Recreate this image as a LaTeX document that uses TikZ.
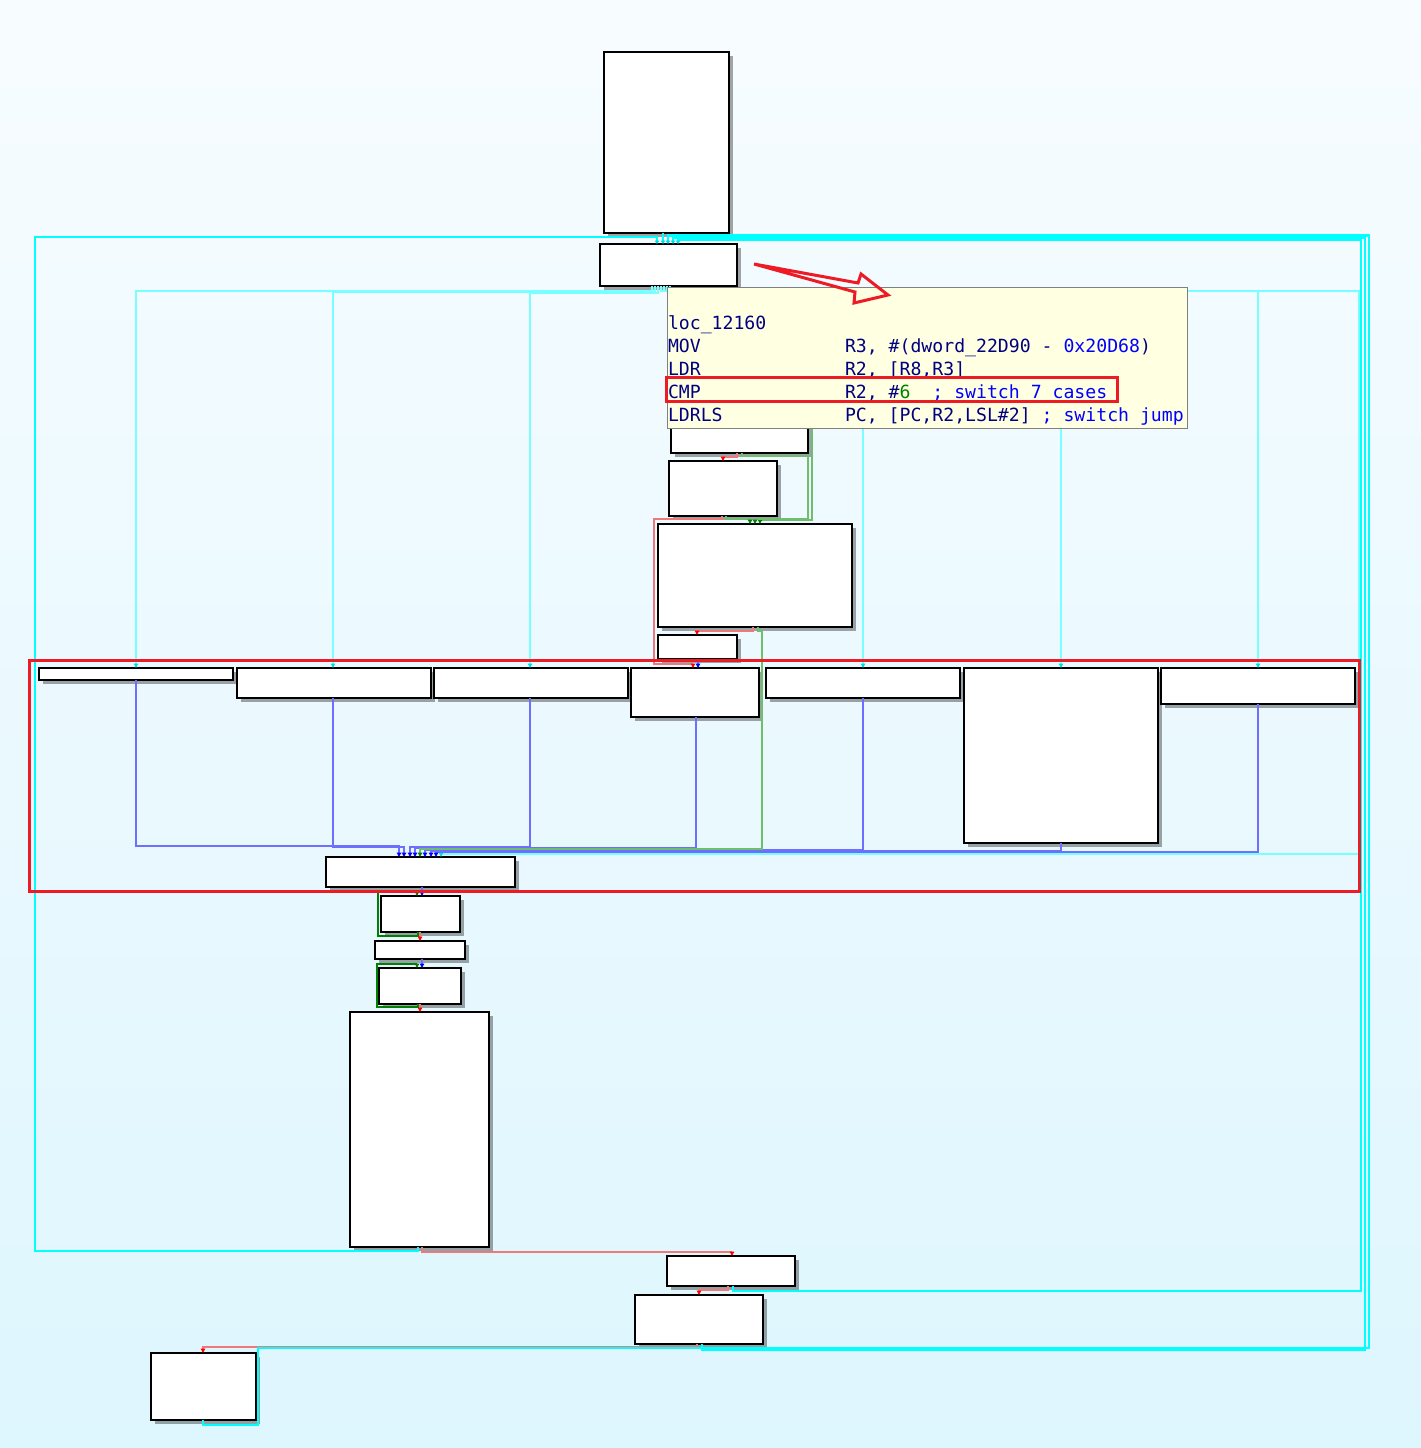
\documentclass[tikz,border=0pt]{standalone}
\usepackage{fontspec}
\newfontfamily\monof{DejaVu Sans Mono}
\usetikzlibrary{arrows.meta,shadows}
\definecolor{bgtop}{RGB}{247,252,255}
\definecolor{bgbot}{RGB}{222,246,254}
\definecolor{cyanD}{RGB}{0,255,255}
\definecolor{cyanL}{RGB}{120,255,255}
\definecolor{cyanA}{RGB}{0,220,230}
\definecolor{blueL}{RGB}{110,110,255}
\definecolor{blueA}{RGB}{0,0,255}
\definecolor{greenL}{RGB}{110,190,110}
\definecolor{greenA}{RGB}{0,128,0}
\definecolor{greenD}{RGB}{0,128,0}
\definecolor{redL}{RGB}{240,120,120}
\definecolor{redA}{RGB}{255,0,0}
\definecolor{hlred}{RGB}{237,28,36}
\definecolor{tipyel}{RGB}{255,255,225}
\definecolor{tipgray}{RGB}{128,128,128}
\definecolor{navy}{RGB}{0,0,128}
\definecolor{blu}{RGB}{0,0,255}
\definecolor{grn}{RGB}{0,128,0}
\begin{document}
\begin{tikzpicture}[x=1pt,y=-1pt,
  ibx/.style={draw=black, line width=1.5pt, fill=white, inner sep=0pt, outer sep=0pt, anchor=north west,
    drop shadow={shadow xshift=4pt, shadow yshift=-4pt, fill=black, opacity=0.35}},
  tipbox/.style={draw=tipgray, line width=1pt, fill=tipyel, inner sep=0pt, outer sep=0pt, anchor=north west},
  txt/.style={anchor=base west, inner sep=0pt, outer sep=0pt, font=\monof\fontsize{18.15pt}{23pt}\selectfont, text=navy},
  eLC/.style={draw=cyanL, line width=2.1pt, -{Triangle[length=4.5pt,width=4.5pt,color=cyanA]}},
  eDC/.style={draw=cyanD, line width=2.8pt, -{Triangle[length=3.5pt,width=4.5pt,color=cyanA]}},
  eDR/.style={draw=cyanD, line width=2.2pt, -{Triangle[length=3.5pt,width=4.5pt,color=cyanA]}},
  eBL/.style={draw=blueL, line width=2.1pt, -{Triangle[length=4.5pt,width=4.5pt,color=blueA]}},
  eGL/.style={draw=greenL, line width=2.1pt, -{Triangle[length=4.5pt,width=4.5pt,color=greenA]}},
  eGD/.style={draw=greenD, line width=2.4pt, -{Triangle[length=4.5pt,width=4.5pt,color=greenA]}},
  eRL/.style={draw=redL, line width=2.1pt, -{Triangle[length=4.5pt,width=4.5pt,color=redA]}},
  hlbox/.style={draw=hlred, line width=3pt}
]
\useasboundingbox (0,0) rectangle (1421,1448);
\shade[top color=bgtop, bottom color=bgbot] (0,0) rectangle (1421,1448);

% ---------- blocks ----------
\node[ibx, minimum width=125pt, minimum height=181pt] (top) at (604,52) {};
\node[ibx, minimum width=137pt, minimum height=42pt]  (b2)  at (600,244) {};
\node[ibx, minimum width=137pt, minimum height=38pt]  (b4)  at (671,415) {};
\node[ibx, minimum width=108pt, minimum height=55pt]  (b5)  at (669,461) {};
\node[ibx, minimum width=194pt, minimum height=103pt] (b6)  at (658,524) {};
\node[ibx, minimum width=79pt,  minimum height=24pt]  (b7)  at (658,635) {};
\node[ibx, minimum width=194pt, minimum height=12pt]  (ca)  at (39,668) {};
\node[ibx, minimum width=194pt, minimum height=30pt]  (cb)  at (237,668) {};
\node[ibx, minimum width=194pt, minimum height=30pt]  (cc)  at (434,668) {};
\node[ibx, minimum width=128pt, minimum height=49pt]  (cd)  at (631,668) {};
\node[ibx, minimum width=194pt, minimum height=30pt]  (ce)  at (766,668) {};
\node[ibx, minimum width=194pt, minimum height=175pt] (cf)  at (964,668) {};
\node[ibx, minimum width=194pt, minimum height=36pt]  (cg)  at (1161,668) {};
\node[ibx, minimum width=189pt, minimum height=30pt]  (mg)  at (326,857) {};
\node[ibx, minimum width=79pt,  minimum height=36pt]  (b8)  at (381,896) {};
\node[ibx, minimum width=90pt,  minimum height=18pt]  (b9)  at (375,941) {};
\node[ibx, minimum width=82pt,  minimum height=36pt]  (b10) at (379,968) {};
\node[ibx, minimum width=139pt, minimum height=235pt] (bb)  at (350,1012) {};
\node[ibx, minimum width=128pt, minimum height=30pt]  (b11) at (667,1256) {};
\node[ibx, minimum width=128pt, minimum height=49pt]  (b12) at (635,1295) {};
\node[ibx, minimum width=105pt, minimum height=67pt]  (b13) at (151,1353) {};
\coordinate (hid) at (812,400);

% ---------- edges ----------
% switch cases (light cyan)
\draw[eLC] ([xshift=52pt]b2.south west) |- (136,291) -- ([xshift=97pt]ca.north west);
\draw[eLC] ([xshift=55pt]b2.south west) |- (333,292) -- ([xshift=96pt]cb.north west);
\draw[eLC] ([xshift=58pt]b2.south west) |- (530,293) -- ([xshift=96pt]cc.north west);
\draw[eLC] ([xshift=61pt]b2.south west) |- (863,291) -- ([xshift=97pt]ce.north west);
\draw[eLC] ([xshift=64pt]b2.south west) |- (1061,291) -- ([xshift=97pt]cf.north west);
\draw[eLC] ([xshift=67pt]b2.south west) |- (1258,291) -- ([xshift=97pt]cg.north west);
\draw[eLC] ([xshift=70pt]b2.south west) |- (1359,291) |- (441,854) -- ([xshift=115pt]mg.north west);

% cases to merge (blue)
\draw[eBL] ([xshift=97pt]ca.south west) |- (399,846) -- ([xshift=73pt]mg.north west);
\draw[eBL] ([xshift=96pt]cb.south west) |- (404,847) -- ([xshift=78pt]mg.north west);
\draw[eBL] ([xshift=96pt]cc.south west) |- (410,847) -- ([xshift=84pt]mg.north west);
\draw[eBL] ([xshift=65pt]cd.south west) |- (415,848) -- ([xshift=89pt]mg.north west);
\draw[eBL] ([xshift=97pt]ce.south west) |- (425,850) -- ([xshift=99pt]mg.north west);
\draw[eBL] ([xshift=97pt]cf.south west) |- (431,851) -- ([xshift=105pt]mg.north west);
\draw[eBL] ([xshift=97pt]cg.south west) |- (436,852) -- ([xshift=110pt]mg.north west);

% upper chain
\draw[eGL] (hid) |- (760,520) -- ([xshift=102pt]b6.north west);
\draw[eGL] ([xshift=71pt]b4.south west) |- (808,456) |- (755,519) -- ([xshift=97pt]b6.north west);
\draw[eGL] ([xshift=57pt]b5.south west) |- (750,519) -- ([xshift=92pt]b6.north west);
\draw[eRL] ([xshift=66pt]b4.south west) |- (723,457) -- ([xshift=54pt]b5.north west);
\draw[eRL] ([xshift=53pt]b5.south west) |- (654,519) |- (693,664) -- ([xshift=62pt]cd.north west);
\draw[eRL] ([xshift=95pt]b6.south west) |- (697,631) -- ([xshift=39pt]b7.north west);
\draw[eGL] ([xshift=100pt]b6.south west) |- (762,631) |- (420,849) -- ([xshift=94pt]mg.north west);
\draw[eBL] ([xshift=40pt]b7.south west) -- ([xshift=67pt]cd.north west);

% lower chain
\draw[eBL] ([xshift=96pt]mg.south west) -- ([xshift=41pt]b8.north west);
\draw[eGD] ([xshift=37pt]b8.south west) |- (378,936) |- (417,892) -- ([xshift=36pt]b8.north west);
\draw[eRL] ([xshift=39pt]b8.south west) -- ([xshift=45pt]b9.north west);
\draw[eBL] ([xshift=47pt]b9.south west) -- ([xshift=43pt]b10.north west);
\draw[eGD] ([xshift=39pt]b10.south west) |- (377,1007) |- (417,964) -- ([xshift=38pt]b10.north west);
\draw[eRL] ([xshift=41pt]b10.south west) -- ([xshift=70pt]bb.north west);
\draw[eRL] ([xshift=72pt]bb.south west) |- (732,1252) -- ([xshift=65pt]b11.north west);
\draw[eRL] ([xshift=61pt]b11.south west) |- (699,1290) -- ([xshift=64pt]b12.north west);
\draw[eRL] ([xshift=62pt]b12.south west) |- (203,1347) -- ([xshift=52pt]b13.north west);

% loop-backs (cyan)
\draw[eDC] ([xshift=59pt]top.south west) -- ([xshift=63pt]b2.north west);
\draw[eDC] ([xshift=68pt]bb.south west) |- (35,1251) |- (657,237) -- ([xshift=57pt]b2.north west);
\draw[eDR] ([xshift=66pt]b11.south west) |- (1361,1291) |- (678,239.5) -- ([xshift=78pt]b2.north west);
\draw[eDR] ([xshift=67pt]b12.south west) |- (1365,1350) |- (673,237.5) -- ([xshift=73pt]b2.north west);
\draw[eDR] ([xshift=52pt]b13.south west) |- (258,1425) |- (1369,1348) |- (668,235.5) -- ([xshift=68pt]b2.north west);

% ---------- tooltip ----------
\node[tipbox, minimum width=520pt, minimum height=141pt] (tt) at (667,287) {};
\node[txt] (t0) at (668,329) {loc\_12160};
\node[txt] (t1) at (668,352) {MOV};
\node[txt] (u1) at (845,352) {R3, \#(dword\_22D90 - {\color{blu}0x20D68})};
\node[txt] (t2) at (668,375) {LDR};
\node[txt] (u2) at (845,375) {R2, [R8,R3]};
\node[txt] (t3) at (668,398) {CMP};
\node[txt] (u3) at (845,398) {R2, \#{\color{grn}6}\ \ {\color{blu}; switch 7 cases}};
\node[txt] (t4) at (668,421) {LDRLS};
\node[txt] (u4) at (845,421) {PC, [PC,R2,LSL\#2] {\color{blu}; switch jump}};

% ---------- annotations ----------
\draw[hlbox] (29,660) rectangle (1359,891);
\draw[hlbox] (666,377) rectangle (1117,401);
\draw[hlbox, line join=miter] (754,264) -- (858,283) -- (861,274) -- (888,295) -- (854,303) -- (855,292) -- cycle;
\end{tikzpicture}
\end{document}
